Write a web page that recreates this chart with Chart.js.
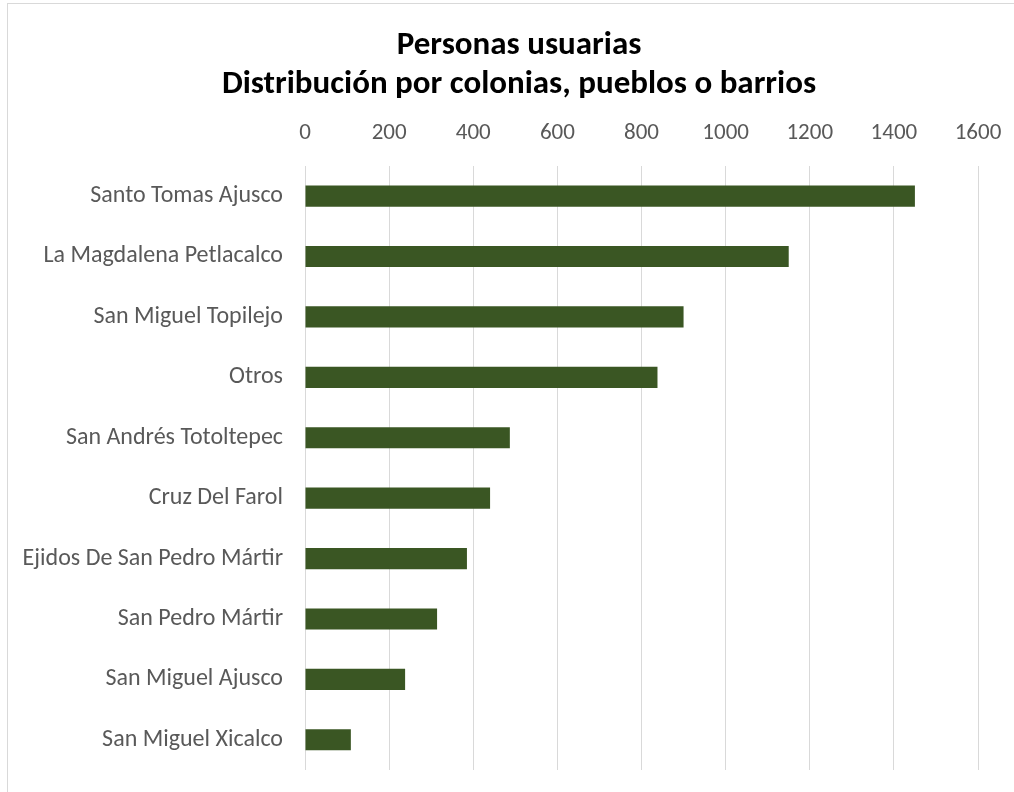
<!DOCTYPE html>
<html lang="es">
<head>
<meta charset="utf-8">
<title>Personas usuarias - Distribución por colonias, pueblos o barrios</title>
<script src="https://cdn.jsdelivr.net/npm/chart.js@4"></script>
<style>
  html, body { margin: 0; padding: 0; background: #fff; overflow: hidden; }
  #wrap { position: relative; width: 1014px; height: 792px; overflow: hidden; }
  #frame {
    position: absolute; left: 7px; top: 3px; width: 1020px; height: 800px;
    border-top: 1px solid #d9d9d9; border-left: 1px solid #d9d9d9;
    pointer-events: none;
  }
  #chart { position: absolute; left: 0; top: 0; }
</style>
</head>
<body>
<div id="wrap">
  <!-- canvas is a little wider than the page so the title centres where the original has it -->
  <canvas id="chart" width="1038" height="792"></canvas>
  <div id="frame"></div>
</div>
<script>
// Chart data
const colonias = [
  'Santo Tomas Ajusco',
  'La Magdalena Petlacalco',
  'San Miguel Topilejo',
  'Otros',
  'San Andrés Totoltepec',
  'Cruz Del Farol',
  'Ejidos De San Pedro Mártir',
  'San Pedro Mártir',
  'San Miguel Ajusco',
  'San Miguel Xicalco'
];
const personas = [1450, 1150, 900, 838, 487, 440, 385, 314, 238, 109];
const xTicks = [0, 200, 400, 600, 800, 1000, 1200, 1400, 1600];
const titleLines = ['Personas usuarias', 'Distribución por colonias, pueblos o barrios'];

const FONT = 'Carlito, Calibri, Lato, sans-serif';
const TICK_COLOR = '#595959';

// Build the chart
const ctx = document.getElementById('chart');
new Chart(ctx, {
  type: 'bar',
  data: {
    labels: colonias,
    datasets: [{
      label: 'Personas usuarias',
      data: personas,
      backgroundColor: '#3a5623',
      borderWidth: 0,
      categoryPercentage: 1,
      barPercentage: 0.35
    }]
  },
  options: {
    indexAxis: 'y',
    responsive: false,
    animation: false,
    layout: {
      padding: { left: 0, right: 0, top: 0, bottom: 22 }
    },
    plugins: {
      legend: { display: false },
      tooltip: { enabled: false },
      title: {
        display: true,
        text: titleLines,
        color: '#000',
        font: { family: FONT, size: 33, weight: 'bold', lineHeight: 1.18 },
        padding: { top: 26, bottom: 16 }
      }
    },
    scales: {
      x: {
        position: 'top',
        min: xTicks[0],
        max: xTicks[xTicks.length - 1],
        afterBuildTicks: (scale) => {
          scale.ticks = xTicks.map(v => ({ value: v }));
        },
        afterFit: (scale) => {
          scale.height = 46;
          scale.paddingRight = 60;
        },
        ticks: {
          color: TICK_COLOR,
          font: { family: FONT, size: 23 },
          padding: 19,
          maxRotation: 0,
          callback: (v) => String(v)
        },
        grid: { color: '#d9d9d9', lineWidth: 1, drawTicks: false },
        border: { display: false }
      },
      y: {
        afterFit: (scale) => {
          scale.width = 305;
          scale.paddingTop = 0;
          scale.paddingBottom = 0;
        },
        ticks: {
          color: TICK_COLOR,
          font: { family: FONT, size: 24 },
          padding: 22,
          autoSkip: false
        },
        grid: { display: false, drawTicks: false },
        border: { display: false }
      }
    }
  }
});
</script>
</body>
</html>
